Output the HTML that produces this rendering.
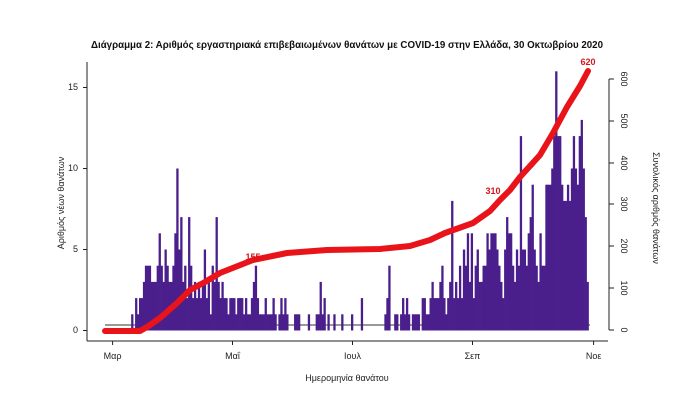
<!DOCTYPE html>
<html><head><meta charset="utf-8"><style>
html,body{margin:0;padding:0;background:#fff;width:700px;height:402px;overflow:hidden}
svg{display:block;font-family:"Liberation Sans",sans-serif}
</style></head><body>
<svg id="s" width="700" height="402" viewBox="0 0 700 402">
<text x="347" y="48" text-anchor="middle" font-size="10.5" font-weight="bold" fill="#111" textLength="512" lengthAdjust="spacingAndGlyphs">Διάγραμμα 2: Αριθμός εργαστηριακά επιβεβαιωμένων θανάτων με COVID-19 στην Ελλάδα, 30 Οκτωβρίου 2020</text>
<g stroke="#222" stroke-width="1" fill="none">
<line x1="87" y1="62" x2="87" y2="341"/>
<line x1="87" y1="341" x2="608" y2="341"/>
<line x1="83" y1="330.5" x2="87" y2="330.5"/><line x1="83" y1="249.5" x2="87" y2="249.5"/>
<line x1="83" y1="168.5" x2="87" y2="168.5"/><line x1="83" y1="87.5" x2="87" y2="87.5"/>
<line x1="609" y1="79" x2="609" y2="330"/>
<line x1="609" y1="330" x2="614" y2="330"/><line x1="609" y1="288" x2="614" y2="288"/>
<line x1="609" y1="246" x2="614" y2="246"/><line x1="609" y1="204" x2="614" y2="204"/>
<line x1="609" y1="163" x2="614" y2="163"/><line x1="609" y1="121" x2="614" y2="121"/>
<line x1="609" y1="79" x2="614" y2="79"/>
<line x1="112.6" y1="341" x2="112.6" y2="345"/><line x1="232.5" y1="341" x2="232.5" y2="345"/>
<line x1="352.5" y1="341" x2="352.5" y2="345"/><line x1="472.5" y1="341" x2="472.5" y2="345"/>
<line x1="593.6" y1="341" x2="593.6" y2="345"/>
</g>
<g font-size="9" fill="#222" text-anchor="end">
<text x="78" y="333">0</text><text x="78" y="252">5</text><text x="78" y="171">10</text><text x="78" y="90">15</text>
</g>
<g font-size="9" fill="#222" text-anchor="middle">
<text x="112.6" y="359">Μαρ</text><text x="232.5" y="359">Μαΐ</text><text x="352.5" y="359">Ιουλ</text><text x="472.5" y="359">Σεπ</text><text x="593.6" y="359">Νοε</text>
<text x="347" y="381">Ημερομηνία θανάτου</text>
<text transform="translate(64,203) rotate(-90)">Αριθμός νέων θανάτων</text>
<text transform="translate(653,208) rotate(90)">Συνολικός αριθμός θανάτων</text>
<text transform="translate(621,330) rotate(90)">0</text>
<text transform="translate(621,288) rotate(90)">100</text>
<text transform="translate(621,246) rotate(90)">200</text>
<text transform="translate(621,204) rotate(90)">300</text>
<text transform="translate(621,163) rotate(90)">400</text>
<text transform="translate(621,121) rotate(90)">500</text>
<text transform="translate(621,79) rotate(90)">600</text>
</g>
<line x1="105" y1="325" x2="590" y2="325" stroke="#999" stroke-width="2"/>
<g id="bars" fill="#4a1f8c"></g>
<path d="M105,331 L140,331 L147,327 L160,318 L177,303 L190,290 L205,282 L220,273 L253,260 L287,253 L327,250 L380,249 L410,246 L430,240 L445,233 L473,223 L490,211 L500,200 L510,190 L520,177 L540,155 L553,133 L567,107 L580,86 L588,71" fill="none" stroke="#e8141a" stroke-width="6" stroke-linejoin="round" stroke-linecap="round"/>
<g font-size="9" font-weight="bold" fill="#d8141a" text-anchor="middle">
<text x="253" y="260">155</text><text x="493" y="194">310</text><text x="588" y="65">620</text>
</g>
</svg>
<script>
var d=[0,0,0,0,0,0,0,0,0,0,
1,0,2,1,2,2,3,4,4,4,3,3,3,4,6,4,3,5,4,3,3,4,6,
10,5,7,3,4,2,7,4,2,3,2,3,2,3,5,2,3,1,4,3,7,3,2,3,2,
2,1,2,2,2,1,2,2,2,1,2,1,1,2,3,4,2,1,1,1,2,1,1,1,2,1,0,1,2,1,2,1,0,0,0,1,1,1,0,0,0,0,1,
0,0,0,1,1,3,1,2,0,1,0,0,1,0,0,0,1,0,0,0,0,1,0,0,0,0,2,0,0,0,
0,0,0,0,0,0,0,0,1,2,4,0,0,1,1,0,1,2,1,2,1,0,1,1,1,1,0,2,2,1,1,
2,3,2,2,2,3,4,2,1,2,3,8,2,3,2,4,2,5,4,6,3,6,2,4,5,3,3,4,4,6,5,
6,6,6,5,4,3,2,5,7,6,6,4,3,5,4,12,5,5,4,6,7,9,5,4,3,6,4,4,9,9,
9,10,12,16,12,12,9,8,8,9,8,10,12,10,9,12,13,10,7,3];
var g=document.getElementById('bars'),h='';
for(var i=0;i<d.length;i++){if(!d[i])continue;var x=112.6+i*1.963,y=330.5-d[i]*16.2;
h+='<rect x="'+(x-1.1).toFixed(2)+'" y="'+y.toFixed(1)+'" width="2.3" height="'+(330.5-y).toFixed(1)+'"/>';}
g.innerHTML=h;
</script>
</body></html>
